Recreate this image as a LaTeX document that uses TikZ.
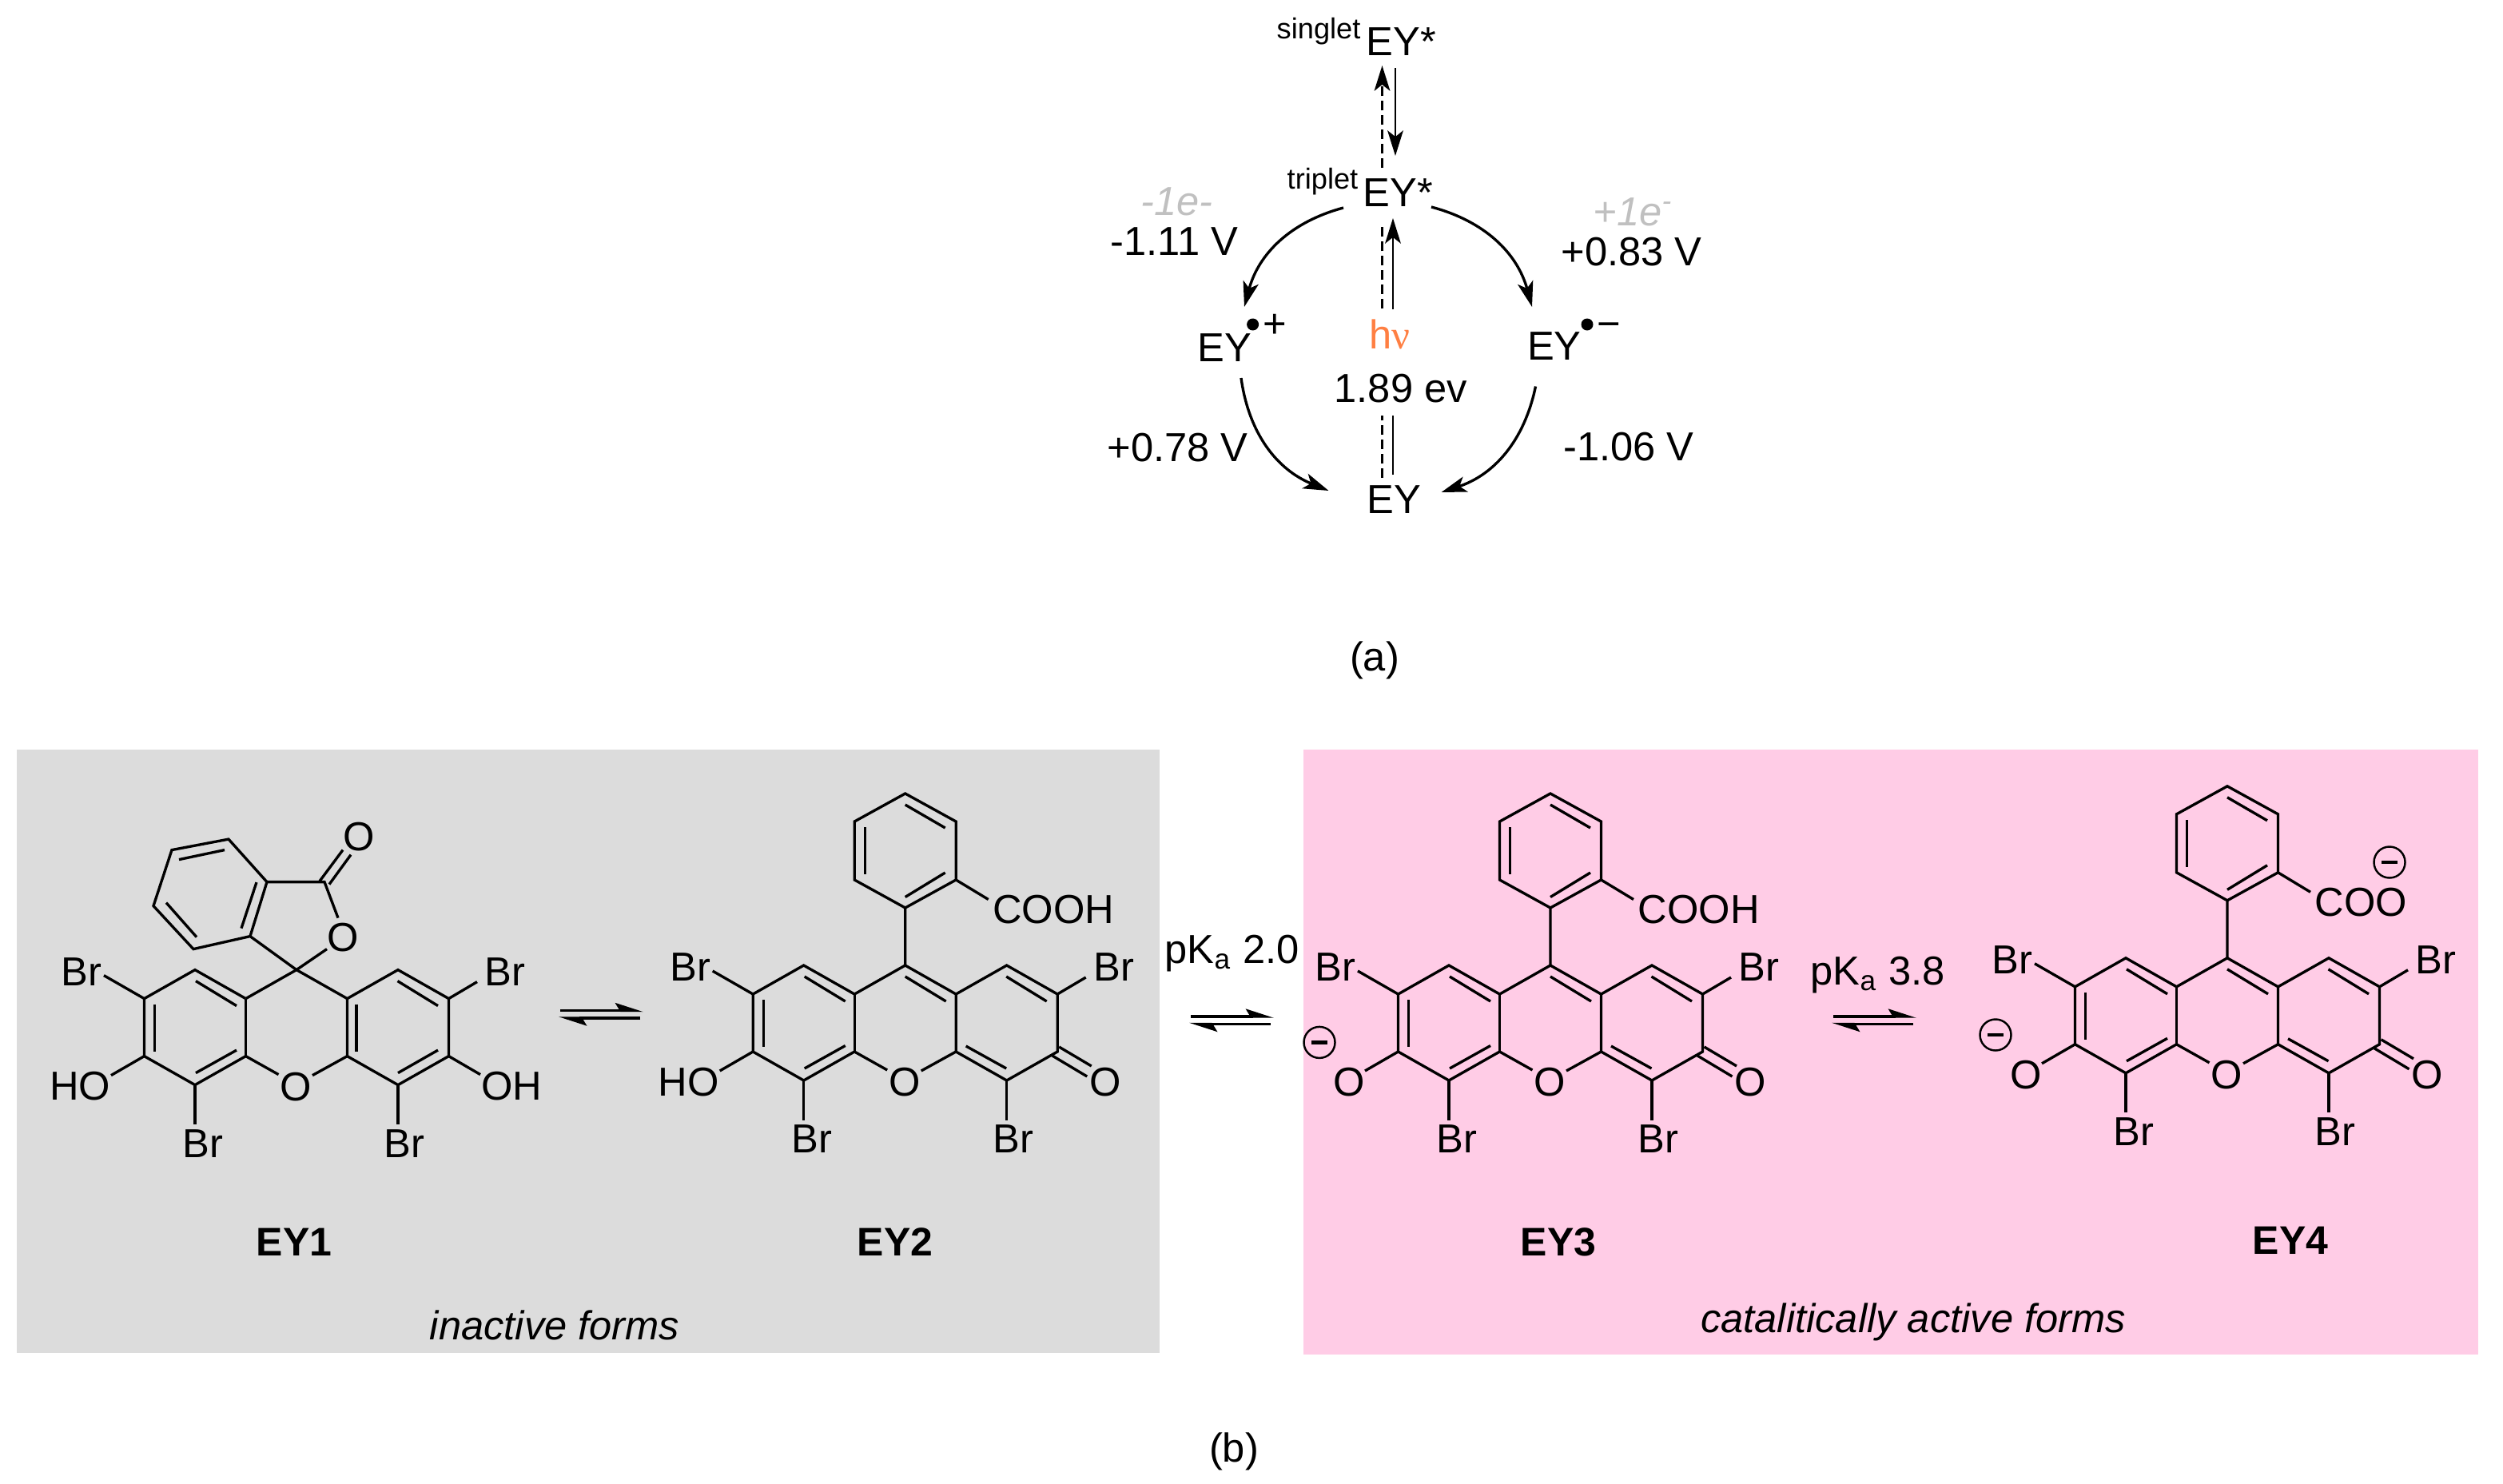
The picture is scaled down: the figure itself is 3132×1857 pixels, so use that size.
\documentclass[tikz,border=0pt]{standalone}
\usepackage{fontspec}
\setmainfont{Liberation Sans}
\newfontfamily\nufont{Liberation Serif}
\usetikzlibrary{arrows.meta,shapes.geometric}
\definecolor{inactivegray}{HTML}{DCDCDC}
\definecolor{activepink}{HTML}{FFCCE6}
\definecolor{hvorange}{HTML}{FF7F42}
\definecolor{electrongray}{HTML}{C0C0C0}
\tikzset{
  every node/.style={inner sep=0pt},
  bond/.style={line width=.95pt},
  atom/.style={font=\fontsize{14.4}{14.4}\selectfont},
  acid/.style={atom, anchor=west},
  title/.style={atom, font=\fontsize{14.2}{14.2}\selectfont\bfseries},
  cyc/.style={anchor=base west, font=\fontsize{14.4}{14.4}\selectfont},
  lost/.style={cyc, text=electrongray, font=\fontsize{14.4}{14.4}\selectfont\itshape},
  spin/.style={anchor=base west, font=\fontsize{10.3}{10.3}\selectfont},
  redox/.style={line width=.95pt, -{Stealth[length=9pt,width=5.6pt,inset=2.2pt]}},
  excite/.style={line width=.8pt},
  exciteup/.style={excite, -{Stealth[length=9pt,width=5.6pt,inset=2.2pt]}},
  dashline/.style={excite, dash pattern=on 3.4pt off 1.7pt},
  harp/.style={line width=.95pt, -{Stealth[harpoon,length=8.5pt,width=5.4pt,inset=1.6pt]}},
  anion/.style={circle, draw, line width=.7pt, minimum size=.39cm}
}
\newcommand{\xancore}[3]{%
\begin{scope}[shift={(#2,#3)}]
\coordinate (#1c9) at (0,0);
\coordinate (#1c9a) at (-63.5,36);
\coordinate (#1c4a) at (-63.5,108);
\coordinate (#1c8a) at (63.5,36);
\coordinate (#1c5a) at (63.5,108);
\coordinate (#1c1) at (-127,0);
\coordinate (#1c2) at (-190.5,36);
\coordinate (#1c3) at (-190.5,108);
\coordinate (#1c4) at (-127,144);
\coordinate (#1c8) at (127,0);
\coordinate (#1c7) at (190.5,36);
\coordinate (#1c6) at (190.5,108);
\coordinate (#1c5) at (127,144);
\coordinate (#1oa) at (-22.5,131);
\coordinate (#1ob) at (20,132);
\coordinate (#1bra) at (-241,7);
\coordinate (#1brb) at (226,15);
\coordinate (#1brc) at (-127,193.5);
\coordinate (#1brd) at (127,193.5);
\coordinate (#1ohe) at (-232,132);
\node[atom] (#1O) at (-1,146) {O};
\node[atom] (#1BrA) at (-269,2) {Br};
\node[atom] (#1BrB) at (261,2) {Br};
\node[atom] (#1BrC) at (-117,217.5) {Br};
\node[atom] (#1BrD) at (135,217.5) {Br};
\draw[bond] (#1c9a) -- (#1c9) -- (#1c8a) -- (#1c5a);
\draw[bond] (#1c9a) -- (#1c4a);
\draw[bond] (#1c9a) -- (#1c1) -- (#1c2) -- (#1c3) -- (#1c4) -- (#1c4a);
\draw[bond] (#1c8a) -- (#1c8) -- (#1c7) -- (#1c6) -- (#1c5) -- (#1c5a);
\draw[bond] (#1c4a) -- (#1oa);
\draw[bond] (#1c5a) -- (#1ob);
\draw[bond] (#1c2) -- (#1bra);
\draw[bond] (#1c7) -- (#1brb);
\draw[bond] (#1c4) -- (#1brc);
\draw[bond] (#1c5) -- (#1brd);
\draw[bond] (#1c3) -- (#1ohe);
\draw[bond] (-126,14) -- (-75,45);
\draw[bond] (-177.5,43) -- (-177.5,102);
\draw[bond] (-126,129) -- (-75,100.5);
\draw[bond] (126.5,14) -- (177,45);
\end{scope}}
\newcommand{\xanquinoid}[6]{%
\xancore{#1}{#2}{#3}
\begin{scope}[shift={(#2,#3)}]
\coordinate (#1p1) at (0,-72);
\coordinate (#1p2) at (63.5,-107);
\coordinate (#1p3) at (63.5,-180);
\coordinate (#1p4) at (0,-215);
\coordinate (#1p5) at (-63.5,-180);
\coordinate (#1p6) at (-63.5,-107);
\coordinate (#1acd) at (104,-82.5);
\node[atom] (#1OL) at (#4,146) {#5};
\node[atom] (#1OR) at (250,146) {O};
\node[acid] (#1acid) at (109,-70) {#6};
\draw[bond] (#1c9) -- (#1p1) -- (#1p2) -- (#1p3) -- (#1p4) -- (#1p5) -- (#1p6) -- (#1p1);
\draw[bond] (#1p2) -- (#1acd);
\draw[bond] (-50.5,-173) -- (-50.5,-114);
\draw[bond] (0,-201) -- (50,-172);
\draw[bond] (0,-85.5) -- (50,-116);
\draw[bond] (0,14) -- (51,45);
\draw[bond] (76,101) -- (126.5,129);
\draw[bond] (192.5,102) -- (233,126);
\draw[bond] (184,113) -- (227.5,139);
\end{scope}}
\newcommand{\minusring}[3]{%
\begin{scope}[shift={(#2,#3)}]
\node[anion] (#1) at (0,0) {};
\draw[line width=1.2pt] (-10,0) -- (10,0);
\end{scope}}
\newcommand{\eqarrows}[3]{%
\begin{scope}[shift={(#2,#3)}]
\coordinate (#1a) at (0,0);
\coordinate (#1b) at (104,0);
\coordinate (#1c) at (100,9.5);
\coordinate (#1d) at (-2,9.5);
\draw[harp] (#1a) -- (#1b);
\draw[harp] (#1c) -- (#1d);
\end{scope}}
\begin{document}
\begin{tikzpicture}[x=.01cm,y=-.01cm]
\useasboundingbox (0,0) rectangle (3132,1857);
\fill[inactivegray] (21,938) rectangle (1451,1693);
\fill[activepink] (1631,938) rectangle (3101,1695);
\node[spin] (singlet) at (1597,48) {singlet};
\node[cyc] (eysinglet) at (1709,69) {EY*};
\node[spin] (triplet) at (1610,236) {triplet};
\node[cyc] (eytriplet) at (1705,258) {EY*};
\node[cyc] (eycation) at (1498,452) {EY};
\node[circle, fill, minimum size=.15cm] (dotcation) at (1567.6,406) {};
\node[cyc] (pluscation) at (1580,422) {+};
\node[cyc] (eyanion) at (1910.5,450) {EY};
\node[circle, fill, minimum size=.15cm] (dotanion) at (1986,406) {};
\node[cyc] (minusanion) at (1998,422) {−};
\node[cyc] (eyground) at (1710,642) {EY};
\node[cyc, text=hvorange] (hv) at (1713,436) {h{\nufont ν}};
\node[cyc] (gap) at (1669,503) {1.89 ev};
\node[lost] (lossE) at (1427,269) {-1e-};
\node[lost] (gainE) at (1993,282) {+1e\textsuperscript{-}};
\node[cyc] (potA) at (1389,319) {-1.11 V};
\node[cyc] (potB) at (1953,332) {+0.83 V};
\node[cyc] (potC) at (1385,577) {+0.78 V};
\node[cyc] (potD) at (1955.5,576) {-1.06 V};
\node[atom] (capa) at (1720,826) {(a)};
\node[atom] (capb) at (1544,1816) {(b)};
\coordinate (isc1) at (1729.5,210);
\coordinate (isc2) at (1729.5,82);
\coordinate (isc3) at (1746,85);
\coordinate (isc4) at (1746,195);
\coordinate (abs1) at (1729.5,386);
\coordinate (abs2) at (1729.5,282);
\coordinate (abs3) at (1743,387);
\coordinate (abs4) at (1743,273);
\coordinate (low1) at (1729.5,598);
\coordinate (low2) at (1729.5,520);
\coordinate (low3) at (1743,594);
\coordinate (low4) at (1743,520);
\coordinate (arcA1) at (1681,260);
\coordinate (arcA2) at (1557,384);
\coordinate (arcB1) at (1791,259);
\coordinate (arcB2) at (1917,384);
\coordinate (arcC1) at (1553,473);
\coordinate (arcC2) at (1662.5,614);
\coordinate (arcD1) at (1921.5,483.5);
\coordinate (arcD2) at (1803.5,616);
\draw[dashline, -{Stealth[length=9pt,width=5.6pt,inset=2.2pt]}] (isc1) -- (isc2);
\draw[exciteup] (isc3) -- (isc4);
\draw[dashline] (abs1) -- (abs2);
\draw[exciteup] (abs3) -- (abs4);
\draw[dashline] (low1) -- (low2);
\draw[excite] (low3) -- (low4);
\draw[redox] (arcA1) to[bend right=30] (arcA2);
\draw[redox] (arcB1) to[bend left=30] (arcB2);
\draw[redox] (arcC1) to[bend right=30] (arcC2);
\draw[redox] (arcD1) to[bend left=30] (arcD2);
\xancore{eya}{371}{1213.6}
\begin{scope}[shift={(371,1213.6)}]
\coordinate (eyaohf) at (230,131);
\coordinate (eyas1) at (-58,-42);
\coordinate (eyas2) at (-37,-110);
\coordinate (eyas3) at (-85,-163.5);
\coordinate (eyas4) at (-156,-150);
\coordinate (eyas5) at (-179,-80);
\coordinate (eyas6) at (-129,-26);
\coordinate (eyas7) at (35,-110);
\coordinate (eyas8) at (52,-65);
\coordinate (eyas9) at (38,-26);
\node[atom] (eyaHO) at (-271,145.5) {HO};
\node[atom] (eyaOH) at (269,145.5) {OH};
\node[atom] (eyaOr) at (58,-41) {O};
\node[atom] (eyaOc) at (78,-166.5) {O};
\draw[bond] (eyac6) -- (eyaohf);
\draw[bond] (eyac9) -- (eyas1) -- (eyas2) -- (eyas3) -- (eyas4) -- (eyas5) -- (eyas6) -- (eyas1);
\draw[bond] (eyas2) -- (eyas7) -- (eyas8);
\draw[bond] (eyac9) -- (eyas9);
\draw[bond] (-69,-52) -- (-50,-109.5);
\draw[bond] (-163,-84) -- (-125,-41);
\draw[bond] (-147,-138) -- (-90,-150);
\draw[bond] (29,-111) -- (58,-150);
\draw[bond] (41,-107) -- (68,-144);
\draw[bond] (75,43) -- (75,102);
\draw[bond] (127,129) -- (177,100.5);
\end{scope}
\xanquinoid{eyb}{1132.7}{1208}{-271}{HO}{COOH}
\xanquinoid{eyc}{1940}{1208}{-252}{O}{COOH}
\xanquinoid{eyd}{2787}{1198.8}{-252}{O}{COO}
\minusring{minusc}{1651}{1304.4}
\minusring{minusd}{2497}{1295}
\minusring{minuse}{2990}{1079}
\eqarrows{eqa}{701}{1264.5}
\eqarrows{eqb}{1490}{1272}
\eqarrows{eqc}{2294}{1272}
\node[atom, anchor=base west] (pka) at (1457,1205) {pK\textsubscript{a} 2.0};
\node[atom, anchor=base west] (pkb) at (2265,1232) {pK\textsubscript{a} 3.8};
\node[title] (nameA) at (368,1554) {EY1};
\node[title] (nameB) at (1120,1554) {EY2};
\node[title] (nameC) at (1950,1554) {EY3};
\node[title] (nameD) at (2866,1552) {EY4};
\node[atom, font=\fontsize{14.4}{14.4}\selectfont\itshape] (inactive) at (694,1658) {inactive forms};
\node[atom, font=\fontsize{14.4}{14.4}\selectfont\itshape] (active) at (2394,1654) {catalitically active forms};
\end{tikzpicture}
\end{document}
